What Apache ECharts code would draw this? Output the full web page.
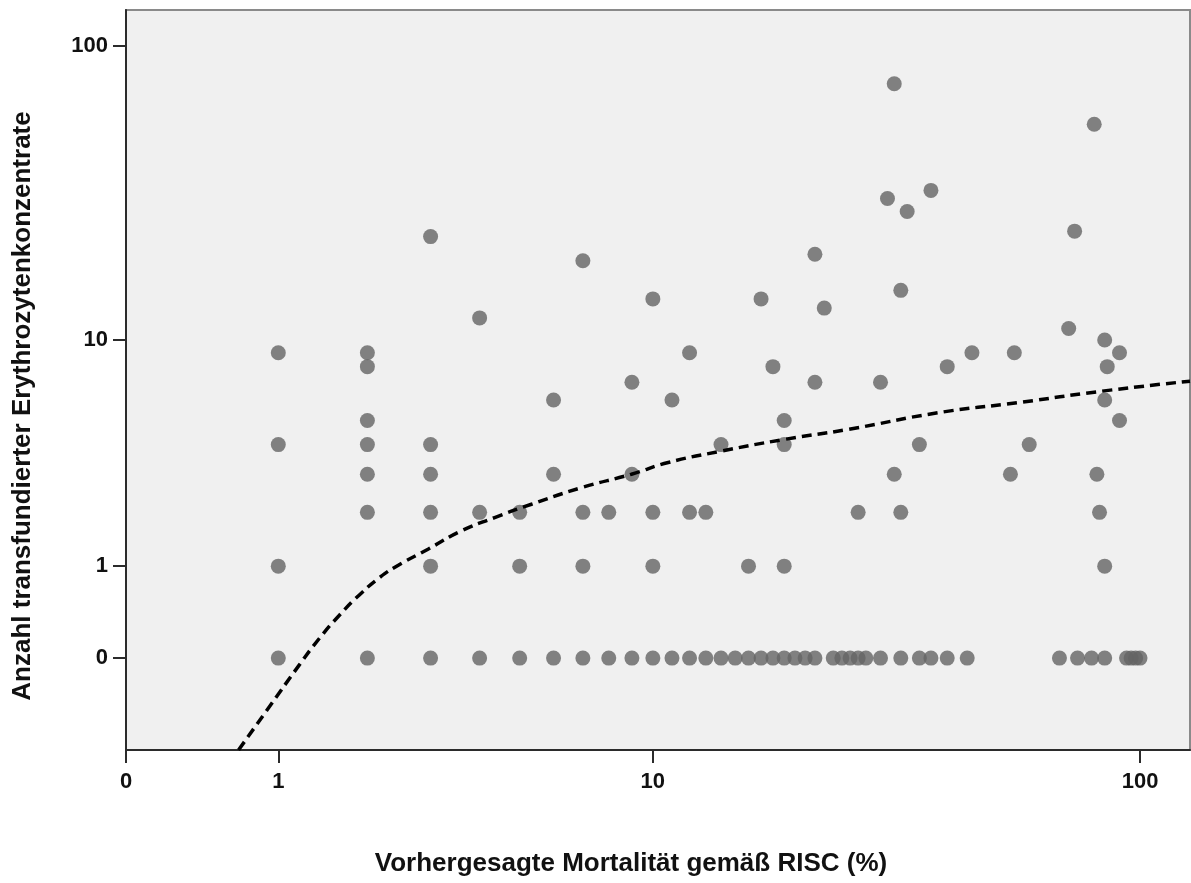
<!DOCTYPE html>
<html>
<head>
<meta charset="utf-8">
<title>Erythrozytenkonzentrate vs. RISC</title>
<script src="https://cdn.jsdelivr.net/npm/echarts@6/dist/echarts.min.js"></script>
<style>
  html, body { margin: 0; padding: 0; background: #ffffff; }
  #chart { width: 1191px; height: 883px; }
</style>
</head>
<body>
<div id="chart"></div>
<script>
// Predicted mortality (RISC, %) per patient
const riscMortality = [
  1, 1, 1, 1,
  2, 2, 2, 2, 2, 2, 2,
  3, 3, 3, 3, 3, 3,
  4, 4, 4,
  5, 5, 5,
  6, 6, 6,
  7, 7, 7, 7,
  8, 8,
  9, 9, 9,
  10, 10, 10, 10,
  11, 11,
  12, 12, 12,
  13, 13,
  14, 14,
  15,
  16, 16,
  17, 17,
  18, 18,
  19, 19, 19, 19,
  20, 21,
  22, 22, 22,
  23, 24, 25, 26,
  27, 27,
  28,
  30, 30,
  31,
  32, 32,
  33, 33, 33,
  34,
  36, 36,
  38, 38,
  41, 41,
  45, 46, 55, 56, 60, 69, 72, 74, 75, 80, 81, 82, 83,
  85, 85, 85, 85,
  86,
  91, 91,
  94, 96, 98, 100
];
// Number of transfused red cell concentrates for the same patients
const ekCount = [
  9, 4, 1, 0,
  9, 8, 5, 4, 3, 2, 0,
  23, 4, 3, 2, 1, 0,
  12, 2, 0,
  2, 1, 0,
  6, 3, 0,
  19, 2, 1, 0,
  2, 0,
  7, 3, 0,
  14, 2, 1, 0,
  6, 0,
  9, 2, 0,
  2, 0,
  4, 0,
  0,
  1, 0,
  14, 0,
  8, 0,
  5, 4, 1, 0,
  0, 0,
  20, 7, 0,
  13, 0, 0, 0,
  2, 0,
  0,
  7, 0,
  31,
  75, 3,
  15, 2, 0,
  28,
  4, 0,
  33, 0,
  8, 0,
  0, 9, 3, 9, 4, 0, 11, 24, 0, 0, 55, 3, 2,
  10, 6, 1, 0,
  8,
  9, 5,
  0, 0, 0, 0
];

// Fitted trend (dashed curve)
const fitMortality = [0.669, 0.922, 1.203, 1.413, 1.644, 1.896, 2.172, 2.427, 2.953, 3.60, 4.355, 5.33, 6.95, 8.98, 10.8, 14.0, 19.0, 25.8, 39.3, 57.0, 83.8, 125.8];
const fitCount     = [-0.5, -0.306, -0.048, 0.162, 0.384, 0.613, 0.836, 1.0, 1.273, 1.608, 1.885, 2.19, 2.615, 3.0, 3.37, 3.76, 4.2, 4.61, 5.36, 5.86, 6.48, 7.07];

// Tick labels on both axes
const xTickLabels = [0, 1, 10, 100];
const yTickLabels = [0, 1, 10, 100];

// Both axes use a log10(v + 1) scale
const tf = v => Math.log10(v + 1);
const inv = v => Math.round(Math.pow(10, v) - 1);

const xRange = [0, 125.8];
const yRange = [-0.5, 131.5];

const scatterData = riscMortality.map((m, i) => [tf(m), tf(ekCount[i])]);
const fitData = fitMortality.map((m, i) => [tf(m), tf(fitCount[i])]);

const FONT = '"Liberation Sans", Arial, Helvetica, sans-serif';
const axisColor = '#2b2b2b';

const chart = echarts.init(document.getElementById('chart'), null, { renderer: 'canvas' });
chart.setOption({
  animation: false,
  backgroundColor: '#ffffff',
  grid: {
    left: 126, right: 1, top: 10, bottom: 133,
    show: true,
    backgroundColor: '#f0f0f0',
    borderColor: '#8a8a8a',
    borderWidth: 2
  },
  xAxis: {
    type: 'value',
    min: tf(xRange[0]),
    max: tf(xRange[1]),
    name: 'Vorhergesagte Mortalität gemäß RISC (%)',
    nameLocation: 'middle',
    nameGap: 101,
    nameTextStyle: { fontFamily: FONT, fontWeight: 'bold', fontSize: 26, color: '#111',
                     padding: [0, 54, 0, 0] },
    axisLine: { show: true, onZero: false, lineStyle: { color: axisColor, width: 2 } },
    axisTick: { show: true, inside: false, length: 13, lineStyle: { color: axisColor, width: 2 },
                customValues: xTickLabels.map(tf) },
    axisLabel: { show: true, margin: 21, fontFamily: FONT, fontWeight: 'bold', fontSize: 22, color: '#111',
                 customValues: xTickLabels.map(tf), formatter: v => String(inv(v)) },
    splitLine: { show: false }
  },
  yAxis: {
    type: 'value',
    min: tf(yRange[0]),
    max: tf(yRange[1]),
    name: 'Anzahl transfundierter Erythrozytenkonzentrate',
    nameLocation: 'middle',
    nameGap: 90,
    nameRotate: 90,
    nameTextStyle: { fontFamily: FONT, fontWeight: 'bold', fontSize: 26, color: '#111',
                     padding: [0, 52, 0, 0] },
    axisLine: { show: true, onZero: false, lineStyle: { color: axisColor, width: 2 } },
    axisTick: { show: true, inside: false, length: 13, lineStyle: { color: axisColor, width: 2 },
                customValues: yTickLabels.map(tf) },
    axisLabel: { show: true, margin: 18, fontFamily: FONT, fontWeight: 'bold', fontSize: 22, color: '#111',
                 customValues: yTickLabels.map(tf), formatter: v => String(inv(v)) },
    splitLine: { show: false }
  },
  series: [
    {
      name: 'Patienten',
      type: 'scatter',
      data: scatterData,
      symbol: 'circle',
      symbolSize: 15,
      itemStyle: { color: '#646464' },
      z: 2
    },
    {
      name: 'Anpassung',
      type: 'line',
      data: fitData,
      smooth: 0.5,
      showSymbol: false,
      symbol: 'none',
      clip: true,
      lineStyle: { color: '#000000', width: 3.5, type: [10, 6] },
      z: 3
    }
  ]
});
</script>
</body>
</html>
